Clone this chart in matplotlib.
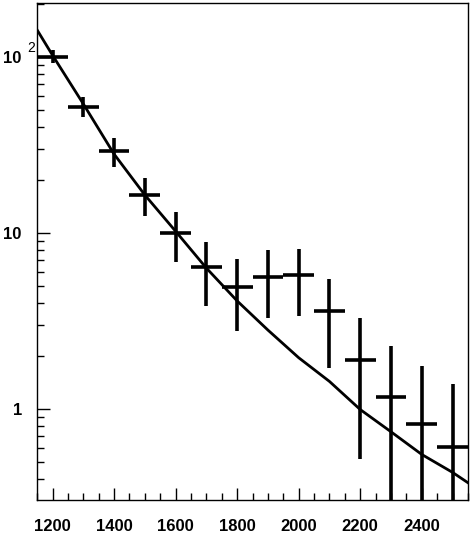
import numpy as np
import matplotlib.pyplot as plt
from matplotlib.ticker import FixedLocator, NullFormatter, FixedFormatter

plt.rcParams.update({
    'font.family': ['Liberation Sans', 'DejaVu Sans'],
    'font.weight': 'bold',
    'axes.linewidth': 1.0,
})

# binned data: centre, value, lower / upper edge of the error bar
bin_x = [1200, 1300, 1400, 1500, 1600, 1700, 1800, 1900, 2000, 2100, 2200, 2300, 2400, 2500]
bin_y = [100, 52, 29.1, 16.4, 10.0, 6.35, 4.95, 5.62, 5.72, 3.57, 1.9, 1.16, 0.815, 0.608]
bin_lo = [91.7, 45.6, 23.7, 12.5, 6.8, 3.86, 2.75, 3.27, 3.36, 1.70, 0.52, 0.01, 0.01, 0.01]
bin_hi = [109, 59.3, 34.6, 20.6, 13.2, 8.9, 7.1, 7.97, 8.1, 5.48, 3.27, 2.27, 1.75, 1.39]
bin_half = 50

# fitted curve
fit_x = [1150, 1200, 1300, 1400, 1500, 1600, 1700, 1800, 1900, 2000, 2100, 2200, 2300, 2400, 2500, 2550]
fit_y = [142, 102, 54, 28, 16.4, 10.2, 6.3, 4.1, 2.8, 1.95, 1.43, 0.99, 0.74, 0.55, 0.435, 0.38]

fig = plt.figure(figsize=(4.76, 5.38), dpi=100)
ax = fig.add_axes([0.078, 0.0706, 0.905, 0.9238])

y = np.array(bin_y)
yerr = [y - np.array(bin_lo), np.array(bin_hi) - y]
ax.errorbar(bin_x, bin_y, yerr=yerr, xerr=bin_half, fmt='none',
            ecolor='black', elinewidth=2.6, capsize=0)
ax.plot(fit_x, fit_y, color='black', lw=2.0)

ax.set_yscale('log')
ax.set_xlim(1150, 2550)
ax.set_ylim(0.303, 202)

ax.xaxis.set_major_locator(FixedLocator([1200, 1400, 1600, 1800, 2000, 2200, 2400]))
ax.xaxis.set_minor_locator(FixedLocator(np.arange(1150, 2551, 50)))
ax.yaxis.set_major_locator(FixedLocator([1, 10, 100]))
ax.yaxis.set_minor_locator(FixedLocator([m * d for d in (0.1, 1, 10, 100) for m in range(2, 10)]))
ax.yaxis.set_minor_formatter(NullFormatter())
ax.yaxis.set_major_formatter(FixedFormatter(['1', '10', '10']))

ax.tick_params(which='both', direction='in', top=False, right=False, width=1.0,
               labelsize=12)
ax.tick_params(which='major', length=9)
ax.tick_params(which='minor', length=5)
ax.tick_params(axis='x', pad=14)
ax.tick_params(axis='y', pad=11)

# exponent of the 10^2 label
ax.text(-0.014, 0.91, '2', transform=ax.transAxes, fontsize=10,
        fontweight='normal', ha='center', va='center')
for lab in ax.get_xticklabels() + ax.get_yticklabels():
    lab.set_fontweight('bold')

fig.savefig('out.png', dpi=100)
